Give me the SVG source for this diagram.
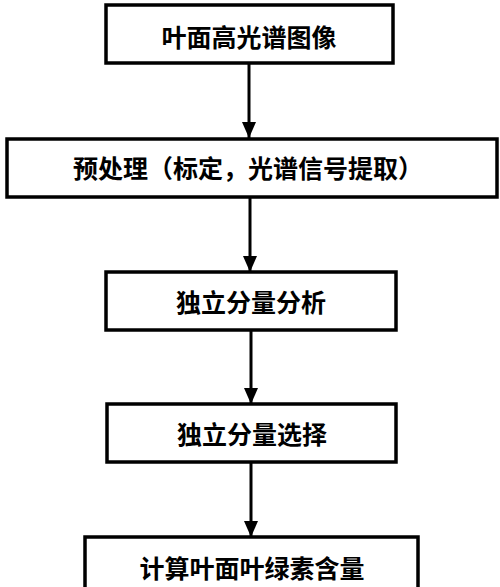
<svg xmlns="http://www.w3.org/2000/svg" width="500" height="587" viewBox="0 0 500 587">
<style>
.box{fill:#fff;stroke:#000;stroke-width:3.5}
.t{font-family:"Noto Sans CJK SC","Noto Sans CJK JP",sans-serif;font-weight:bold;font-size:25px;text-anchor:middle;dominant-baseline:central;fill:#000}
.c{stroke:#000;stroke-width:3;fill:none}
</style>
<defs>
<marker id="ah" markerWidth="16" markerHeight="14" refX="16" refY="7" orient="auto" markerUnits="userSpaceOnUse">
<path d="M0,0 L16,7 L0,14 Z" fill="#000"/>
</marker>
</defs>
<rect width="500" height="587" fill="#fff"/>
<g id="connectors">
<line class="c" x1="249" y1="63" x2="249" y2="138" marker-end="url(#ah)"/>
<line class="c" x1="250" y1="197" x2="250" y2="272" marker-end="url(#ah)"/>
<line class="c" x1="251" y1="330" x2="251" y2="404" marker-end="url(#ah)"/>
<line class="c" x1="251" y1="462" x2="251" y2="537" marker-end="url(#ah)"/>
</g>
<g id="n1"><rect class="box" x="106" y="5" width="287" height="58"/><text class="t" x="249" y="36">叶面高光谱图像</text></g>
<g id="n2"><rect class="box" x="7" y="139" width="490" height="58"/><text class="t" x="248" y="167">预处理（标定，光谱信号提取）</text></g>
<g id="n3"><rect class="box" x="106" y="272" width="290" height="58"/><text class="t" x="251" y="301">独立分量分析</text></g>
<g id="n4"><rect class="box" x="107" y="404" width="289" height="58"/><text class="t" x="252" y="433">独立分量选择</text></g>
<g id="n5"><rect class="box" x="85" y="537" width="333" height="60"/><text class="t" x="252" y="567">计算叶面叶绿素含量</text></g>
</svg>
